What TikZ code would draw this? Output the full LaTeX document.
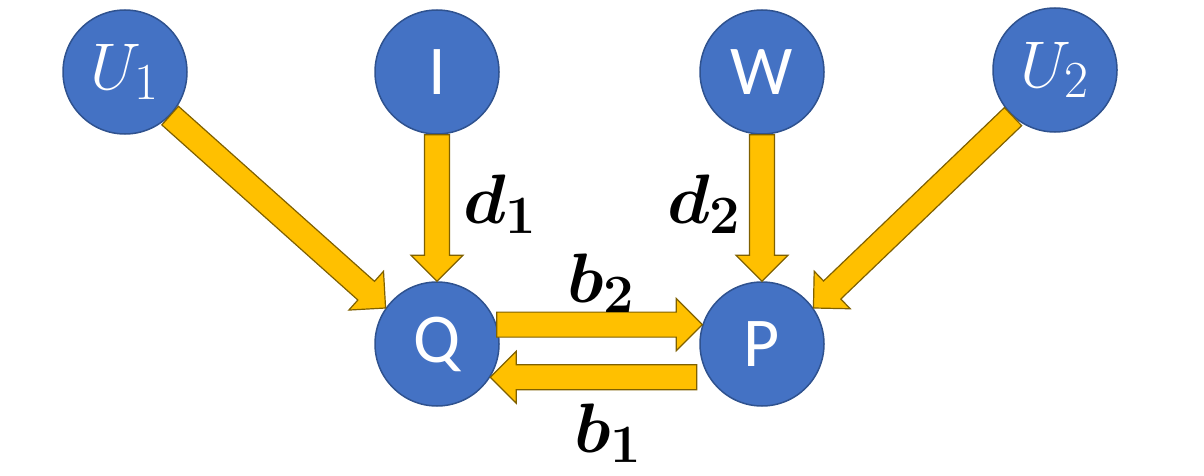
\RequirePackage{fix-cm}
\documentclass[tikz,border=0pt]{standalone}
\usepackage{amsmath}
\usepackage[no-math]{fontspec}
\newfontfamily\calibrifont{Carlito}
\usetikzlibrary{calc}
\definecolor{nodeblue}{HTML}{4472C4}
\definecolor{nodeline}{HTML}{2F528F}
\definecolor{arrowfill}{HTML}{FFC000}
\definecolor{arrowline}{HTML}{7F6000}
% larger subscripts
\DeclareMathSizes{66}{66}{52}{40}
\DeclareMathSizes{70}{70}{54}{42}
% block arrow from #1 to #2
\newcommand{\blockarrow}[2]{%
  \path[flowarrow] let \p1=(#1), \p2=(#2),
    \n1={atan2(\y2-\y1,\x2-\x1)}, \n2={veclen(\x2-\x1,\y2-\y1)} in
    [shift={(\p1)}, rotate=\n1]
    (0,-12.5) -- (\n2-26,-12.5) -- (\n2-26,-26) -- (\n2,0)
    -- (\n2-26,26) -- (\n2-26,12.5) -- (0,12.5) -- cycle;}
\begin{document}
\begin{tikzpicture}[x=1pt, y=1pt,
  state/.style={circle, fill=nodeblue, draw=nodeline, line width=1.5,
    minimum size=124, inner sep=0, text=white},
  plainstate/.style={state, font=\calibrifont\fontsize{70}{80}\selectfont},
  mathstate/.style={state, font=\fontsize{66}{76}\selectfont},
  flowarrow/.style={fill=arrowfill, draw=arrowline, line width=1.2, line join=miter},
  flowlabel/.style={font=\fontsize{70}{80}\selectfont}]
  \useasboundingbox (0,0) rectangle (1204,475);
  % Top row
  \node[mathstate] (U1) at (125,403) {$U_1$};
  \node[plainstate] (I) at (437,403) {I};
  \node[plainstate] (W) at (762,403) {W};
  \node[mathstate] (U2) at (1055,405) {$U_2$};
  % Bottom row
  \node[plainstate] (Q) at (437,131) {Q};
  \node[plainstate] (P) at (762,131) {P};
  % Arrows into Q and P
  \blockarrow{U1.-44}{Q.145}
  \blockarrow{I.south}{Q.north}
  \blockarrow{W.south}{P.north}
  \blockarrow{U2.-132}{P.35}
  % Arrows between Q and P
  \blockarrow{Q.18}{P.162}
  \coordinate (b1tail) at ([xshift=-12pt]P.-148);
  \blockarrow{b1tail}{Q.-32}
  % Labels
  \node[flowlabel] (d1) at (500,271) {$\boldsymbol{d_1}$};
  \node[flowlabel] (d2) at (704,271) {$\boldsymbol{d_2}$};
  \node[flowlabel] (b2) at (601,192) {$\boldsymbol{b_2}$};
  \node[flowlabel] (b1) at (608,42) {$\boldsymbol{b_1}$};
\end{tikzpicture}
\end{document}
